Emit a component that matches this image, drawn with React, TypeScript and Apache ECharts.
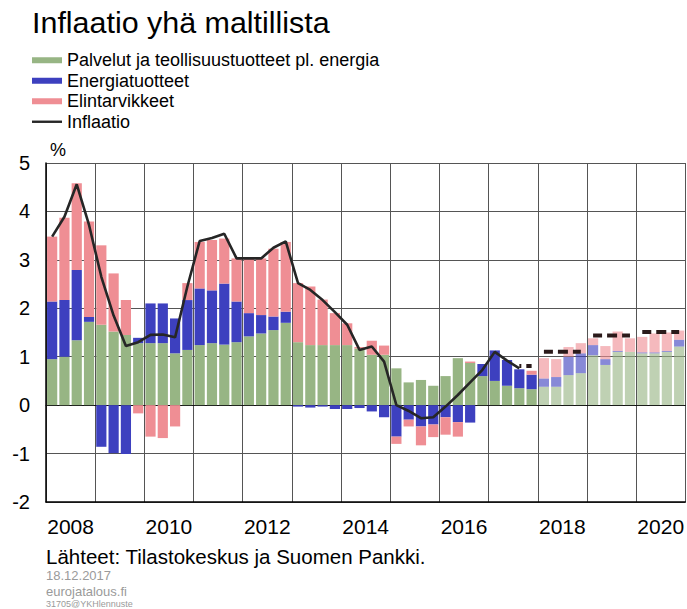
import React, { useEffect, useRef } from "react";
import * as echarts from "echarts";

const years = ["2008", "2009", "2010", "2011", "2012", "2013", "2014", "2015", "2016", "2017", "2018", "2019", "2020"];
const quarterNames = ["Q1", "Q2", "Q3", "Q4"];
const quarters = years.flatMap((y) => quarterNames.map((q) => y + q));

// Palvelut ja teollisuustuotteet pl. energia (%-yks.)
const palvelut = [
  0.95, 1.0, 1.34, 1.72, 1.66, 1.52, 1.45, 1.28,
  1.28, 1.28, 1.07, 1.14, 1.24, 1.28, 1.25, 1.3,
  1.42, 1.48, 1.55, 1.7, 1.3, 1.24, 1.24, 1.24,
  1.24, 1.17, 1.04, 1.04, 0.76, 0.47, 0.52, 0.4,
  0.6, 0.97, 0.87, 0.6, 0.5, 0.4, 0.35, 0.33,
  0.38, 0.38, 0.62, 0.66, 1.03, 0.83, 1.1, 1.1,
  1.07, 1.07, 1.1, 1.21,
];
// Energiatuotteet
const energia = [
  1.19, 1.17, 1.45, 0.1, -0.86, -0.99, -1.01, 0.11,
  0.82, 0.82, 0.72, 1.03, 1.17, 1.09, 1.26, 0.84,
  0.48, 0.38, 0.28, 0.23, -0.03, -0.05, -0.03, -0.08,
  -0.08, -0.06, -0.13, -0.25, -0.65, -0.3, -0.44, -0.4,
  -0.25, -0.35, -0.36, 0.25, 0.63, 0.53, 0.39, 0.3,
  0.17, 0.2, 0.38, 0.41, 0.21, 0.12, 0.02, 0.0,
  0.02, 0.02, 0.02, 0.14,
];
// Elintarvikkeet
const elintarvikkeet = [
  1.34, 1.7, 1.79, 1.97, 1.64, 1.2, 0.72, -0.17,
  -0.65, -0.68, -0.44, 0.35, 0.96, 1.04, 0.93, 0.89,
  1.13, 1.17, 1.4, 1.44, 1.22, 1.21, 0.94, 0.66,
  0.45, 0.03, 0.29, 0.19, -0.15, -0.14, -0.39, -0.26,
  -0.36, -0.3, 0.03, 0.0, 0.0, 0.0, 0.0, 0.08,
  0.42, 0.37, 0.2, 0.21, 0.14, 0.27, 0.4, 0.28,
  0.32, 0.39, 0.38, 0.19,
];
// Inflaatio (toteutunut, 2008Q1–2017Q3)
const inflaatio = [
  3.48, 3.89, 4.56, 3.72, 2.65, 1.85, 1.22, 1.3,
  1.45, 1.46, 1.4, 2.45, 3.39, 3.45, 3.54, 3.03,
  3.03, 3.03, 3.25, 3.38, 2.52, 2.38, 2.17, 1.92,
  1.66, 1.14, 1.21, 0.9, 0.0, -0.12, -0.27, -0.25,
  -0.03, 0.21, 0.47, 0.73, 1.1, 0.92, 0.76,
];
// Ennuste (vuosittainen)
const ennusteAlku = ["2017Q3", "2018Q1", "2019Q1", "2020Q1"];
const ennusteLoppu = ["2017Q4", "2018Q4", "2019Q4", "2020Q4"];
const ennusteArvot = [0.81, 1.1, 1.44, 1.51];
const ennusteenAlkuNeljannes = "2018Q1";

const yTicks = { min: -2, max: 5, interval: 1 };

const FONT = "'Liberation Sans', Arial, sans-serif";

export default function App() {
  const ref = useRef<HTMLDivElement>(null);

  useEffect(() => {
    if (!ref.current) return;
    const chart = echarts.init(ref.current, undefined, { renderer: "svg" });
    const fIdx = quarters.indexOf(ennusteenAlkuNeljannes);
    const mkBar = (arr: number[]) =>
      arr.map((v, i) => (i >= fIdx ? { value: v, itemStyle: { opacity: 0.62 } } : v));

    const forecastSeries = ennusteArvot.map((val, k) => {
      const a = quarters.indexOf(ennusteAlku[k]);
      const b = quarters.indexOf(ennusteLoppu[k]);
      return {
        name: "Ennuste " + ennusteAlku[k].slice(0, 4),
        type: "line",
        xAxisIndex: 0,
        yAxisIndex: 0,
        symbol: "none",
        z: 5,
        lineStyle: {
          color: "#2b1a1a",
          width: 4,
          type: [10, 5],
          dashOffset: k === 0 ? 8 : 1,
        },
        data: quarters.map((_, i) => (i >= a && i <= b ? val : null)),
      };
    });

    const option: any = {
      animation: false,
      backgroundColor: "#fff",
      textStyle: { fontFamily: FONT },
      grid: { left: 46, right: 0, top: 163, bottom: 107, containLabel: false },
      legend: {
        orient: "vertical",
        left: 32,
        top: 50,
        padding: 0,
        itemWidth: 30,
        itemHeight: 6,
        itemGap: 0,
        selectedMode: false,
        symbolKeepAspect: true,
        textStyle: { fontSize: 18, lineHeight: 20.5, color: "#000", fontFamily: FONT },
        data: [
          { name: "Palvelut ja teollisuustuotteet pl. energia", icon: "rect" },
          { name: "Energiatuotteet", icon: "rect" },
          { name: "Elintarvikkeet", icon: "rect" },
          { name: "Inflaatio", icon: "path://M0,0L30,0L30,2.4L0,2.4Z" },
        ],
      },
      xAxis: [
        {
          type: "category",
          data: quarters,
          boundaryGap: true,
          axisLine: { show: true, onZero: true, lineStyle: { color: "#111", width: 1.2 } },
          axisTick: { show: false },
          axisLabel: { show: false },
          splitLine: { show: false },
        },
        {
          type: "category",
          data: years,
          position: "bottom",
          boundaryGap: true,
          axisLine: { show: true, onZero: false, lineStyle: { color: "#000", width: 1.5 } },
          axisTick: { show: false },
          axisLabel: { interval: 1, fontSize: 21, color: "#000", margin: 14, fontFamily: FONT },
          splitLine: { show: true, interval: 0, lineStyle: { color: "#555", width: 1 } },
        },
      ],
      yAxis: {
        type: "value",
        min: yTicks.min,
        max: yTicks.max,
        interval: yTicks.interval,
        axisLine: { show: true, lineStyle: { color: "#000", width: 1.5 } },
        axisTick: { show: false },
        axisLabel: { fontSize: 20, color: "#000", margin: 16, fontFamily: FONT },
        splitLine: { show: true, lineStyle: { color: "#555", width: 1 } },
      },
      series: [
        {
          name: "Palvelut ja teollisuustuotteet pl. energia",
          type: "bar",
          stack: "infl",
          xAxisIndex: 0,
          barCategoryGap: "17%",
          itemStyle: { color: "#97b584" },
          data: mkBar(palvelut),
        },
        {
          name: "Energiatuotteet",
          type: "bar",
          stack: "infl",
          xAxisIndex: 0,
          barCategoryGap: "17%",
          itemStyle: { color: "#3d40bf" },
          data: mkBar(energia),
        },
        {
          name: "Elintarvikkeet",
          type: "bar",
          stack: "infl",
          xAxisIndex: 0,
          barCategoryGap: "17%",
          itemStyle: { color: "#ef8e94" },
          data: mkBar(elintarvikkeet),
        },
        {
          name: "Inflaatio",
          type: "line",
          xAxisIndex: 0,
          symbol: "none",
          z: 6,
          lineStyle: { color: "#262626", width: 2.6 },
          itemStyle: { color: "#262626" },
          data: quarters.map((_, i) => (i < inflaatio.length ? inflaatio[i] : null)),
        },
        ...forecastSeries,
      ],
      graphic: [
        {
          type: "text",
          x: 32,
          y: 23,
          scaleX: 1.05,
          style: { text: "Inflaatio yhä maltillista", fontSize: 29, fontFamily: FONT, fill: "#000", verticalAlign: "middle" },
        },
        {
          type: "text",
          x: 50,
          y: 150,
          style: { text: "%", fontSize: 18, fontFamily: FONT, fill: "#000", verticalAlign: "middle" },
        },
        {
          type: "text",
          x: 46,
          y: 556,
          style: { text: "Lähteet: Tilastokeskus ja Suomen Pankki.", fontSize: 20.5, fontFamily: FONT, fill: "#000", verticalAlign: "middle" },
        },
        {
          type: "text",
          x: 46,
          y: 575,
          style: { text: "18.12.2017", fontSize: 13, fontFamily: FONT, fill: "#9a9a9a", verticalAlign: "middle" },
        },
        {
          type: "text",
          x: 46,
          y: 591,
          style: { text: "eurojatalous.fi", fontSize: 13, fontFamily: FONT, fill: "#9a9a9a", verticalAlign: "middle" },
        },
        {
          type: "text",
          x: 46,
          y: 604,
          style: { text: "31705@YKHlennuste", fontSize: 9, fontFamily: FONT, fill: "#9a9a9a", verticalAlign: "middle" },
        },
      ],
    };
    chart.setOption(option);
    return () => chart.dispose();
  }, []);

  return (
    <div
      ref={ref}
      style={{ position: "fixed", left: 0, top: 0, width: 687, height: 609, background: "#fff" }}
    />
  );
}
